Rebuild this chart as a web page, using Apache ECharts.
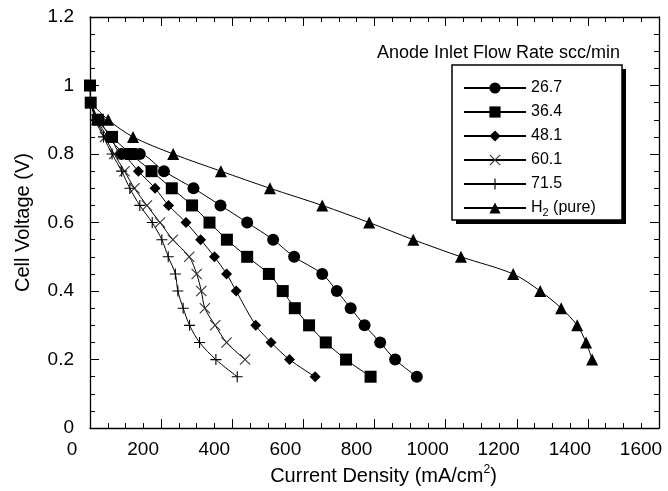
<!DOCTYPE html>
<html><head><meta charset="utf-8">
<script src="https://cdn.jsdelivr.net/npm/echarts@6/dist/echarts.min.js"></script>
<style>html,body{margin:0;padding:0;background:#fff}#c{width:668px;height:491px}</style>
</head><body><div id="c"></div>
<script>
// ---- data (current density mA/cm2, cell voltage V) ----
const seriesNames = ['26.7', '36.4', '48.1', '60.1', '71.5', 'H2 (pure)'];
const xTickValues = [0, 200, 400, 600, 800, 1000, 1200, 1400, 1600];
const yTickValues = [0, 0.2, 0.4, 0.6, 0.8, 1, 1.2];

const flow267_I = [25, 58, 88, 105, 122, 140, 208, 291, 367, 442, 515, 574, 653, 694, 733, 772, 816, 858, 919];
const flow267_V = [0.9, 0.85, 0.8, 0.8, 0.8, 0.8, 0.75, 0.7, 0.65, 0.6, 0.55, 0.5, 0.45, 0.4, 0.35, 0.3, 0.25, 0.2, 0.15];

const flow364_I = [0, 2, 22, 62, 115, 173, 230, 287, 336, 385, 442, 503, 542, 576, 616, 663, 720, 789];
const flow364_V = [1.0, 0.95, 0.9, 0.85, 0.8, 0.75, 0.7, 0.65, 0.6, 0.55, 0.5, 0.45, 0.4, 0.35, 0.3, 0.25, 0.2, 0.15];

const flow481_I = [20, 50, 95, 136, 183, 221, 270, 311, 350, 384, 411, 466, 509, 561, 633];
const flow481_V = [0.9, 0.85, 0.8, 0.75, 0.7, 0.65, 0.6, 0.55, 0.5, 0.45, 0.4, 0.3, 0.25, 0.2, 0.15];

const flow601_I = [18, 42, 68, 97, 125, 160, 197, 233, 279, 300, 313, 323, 352, 384, 436];
const flow601_V = [0.9, 0.85, 0.8, 0.75, 0.7, 0.65, 0.6, 0.55, 0.5, 0.45, 0.4, 0.35, 0.3, 0.25, 0.2];

const flow715_I = [15, 38, 62, 89, 112, 140, 175, 202, 220, 240, 247, 262, 280, 308, 354, 414];
const flow715_V = [0.9, 0.85, 0.8, 0.75, 0.7, 0.65, 0.6, 0.55, 0.5, 0.45, 0.4, 0.35, 0.3, 0.25, 0.2, 0.15];

const h2_I = [51, 121, 234, 368, 506, 653, 785, 909, 1043, 1190, 1266, 1325, 1370, 1395, 1412];
const h2_V = [0.9, 0.85, 0.8, 0.75, 0.7, 0.65, 0.6, 0.55, 0.5, 0.45, 0.4, 0.35, 0.3, 0.25, 0.2];

// common start point of the curves (hidden under the square markers)
const startI = 2, startV = 0.95;

// ---- styling ----
const FONT = '"Liberation Sans", Arial, Helvetica, sans-serif';
const PLUS = 'path://M4.5,0H5.5V4.5H10V5.5H5.5V10H4.5V5.5H0V4.5H4.5Z';
const CROSS = 'path://M0,0.7L0.7,0L5,4.3L9.3,0L10,0.7L5.7,5L10,9.3L9.3,10L5,5.7L0.7,10L0,9.3L4.3,5Z';

function pairs(I, V, withStart) {
  const d = I.map((x, i) => [x, V[i]]);
  if (withStart) d.unshift({ value: [startI, startV], symbol: 'none' });
  return d;
}

const symbols = ['circle', 'rect', 'diamond', CROSS, PLUS, 'triangle'];
const sizes = [12, 12, 11, 11, 11, 12];
const datasets = [
  pairs(flow267_I, flow267_V, true),
  pairs(flow481_I, flow481_V, true),
  pairs(flow601_I, flow601_V, true),
  pairs(flow715_I, flow715_V, true),
  pairs(h2_I, h2_V, true),
  pairs(flow364_I, flow364_V, false)
];
const order = [0, 2, 3, 4, 5, 1]; // index into seriesNames per dataset

const series = datasets.map((d, k) => {
  const idx = order[k];
  return {
    name: seriesNames[idx],
    type: 'line',
    data: d,
    smooth: 0.3,
    symbol: symbols[idx],
    symbolSize: sizes[idx],
    showSymbol: true,
    lineStyle: { color: '#000', width: 1 },
    itemStyle: { color: idx === 3 ? '#333' : '#000' },
    emphasis: { disabled: true },
    z: 3 + k
  };
});

const axisCommon = {
  axisLine: { onZero: false, lineStyle: { color: '#000', width: 1.3 } },
  axisTick: { inside: true, length: 9, lineStyle: { color: '#000', width: 1 } },
  minorTick: { show: true, splitNumber: 4, length: 5, lineStyle: { color: '#000', width: 1 } },
  splitLine: { show: false }
};

const chart = echarts.init(document.getElementById('c'));
chart.setOption({
  animation: false,
  backgroundColor: '#fff',
  textStyle: { fontFamily: FONT, color: '#000' },
  grid: { left: 90, right: 9, top: 17, bottom: 61 },
  xAxis: [
    Object.assign({
      type: 'value', position: 'bottom', min: xTickValues[0], max: xTickValues[xTickValues.length - 1], interval: 200,
      name: 'Current Density (mA/cm{sup|2})', nameLocation: 'middle', nameGap: 34,
      nameTextStyle: { fontSize: 20, color: '#000', fontFamily: FONT, padding: [0, 0, 0, 18],
        rich: { sup: { fontSize: 12, fontFamily: FONT, color: '#000', padding: [0, 0, 12, 0] } } },
      axisLabel: { fontSize: 19, color: '#000', fontFamily: FONT, margin: 12, padding: [0, 36, 0, 0],
        formatter: function (v) { return String(v); } }
    }, axisCommon),
    Object.assign({
      type: 'value', position: 'top', min: xTickValues[0], max: xTickValues[xTickValues.length - 1], interval: 200,
      axisLabel: { show: false }
    }, axisCommon)
  ],
  yAxis: [
    Object.assign({
      type: 'value', position: 'left', min: yTickValues[0], max: yTickValues[yTickValues.length - 1], interval: 0.2,
      name: 'Cell Voltage (V)', nameLocation: 'middle', nameGap: 57, nameRotate: 90,
      nameTextStyle: { fontSize: 20, color: '#000', fontFamily: FONT },
      axisLabel: { fontSize: 19, color: '#000', fontFamily: FONT, margin: 16, padding: [10, 0, 0, 0],
        formatter: function (v) { return String(v); } }
    }, axisCommon),
    Object.assign({
      type: 'value', position: 'right', min: yTickValues[0], max: yTickValues[yTickValues.length - 1], interval: 0.2,
      axisLabel: { show: false }
    }, axisCommon)
  ],
  legend: {
    data: seriesNames,
    orient: 'vertical',
    left: 463, top: 80,
    itemWidth: 62, itemHeight: 14, itemGap: 8,
    selectedMode: false,
    padding: 0,
    textStyle: { fontSize: 16, color: '#000', fontFamily: FONT,
      rich: { a: { fontSize: 16, fontFamily: FONT, color: '#000' },
              s: { fontSize: 11, fontFamily: FONT, color: '#000', padding: [10, 0, 0, 0] } } },
    formatter: function (n) { return n === 'H2 (pure)' ? '{a|H}{s|2}{a| (pure)}' : n; },
    z: 10
  },
  graphic: [
    { type: 'rect', shape: { x: 456, y: 69, width: 170, height: 155 }, style: { fill: '#000' }, z: 5 },
    { type: 'rect', shape: { x: 452, y: 65, width: 170, height: 155 }, style: { fill: '#fff', stroke: '#000', lineWidth: 1.5 }, z: 6 },
    { type: 'text', x: 620, y: 53, style: { text: 'Anode Inlet Flow Rate scc/min', fill: '#000', font: '18px ' + FONT, textAlign: 'right', textVerticalAlign: 'middle' }, z: 6 }
  ],
  series: series
});
</script>
</body></html>
